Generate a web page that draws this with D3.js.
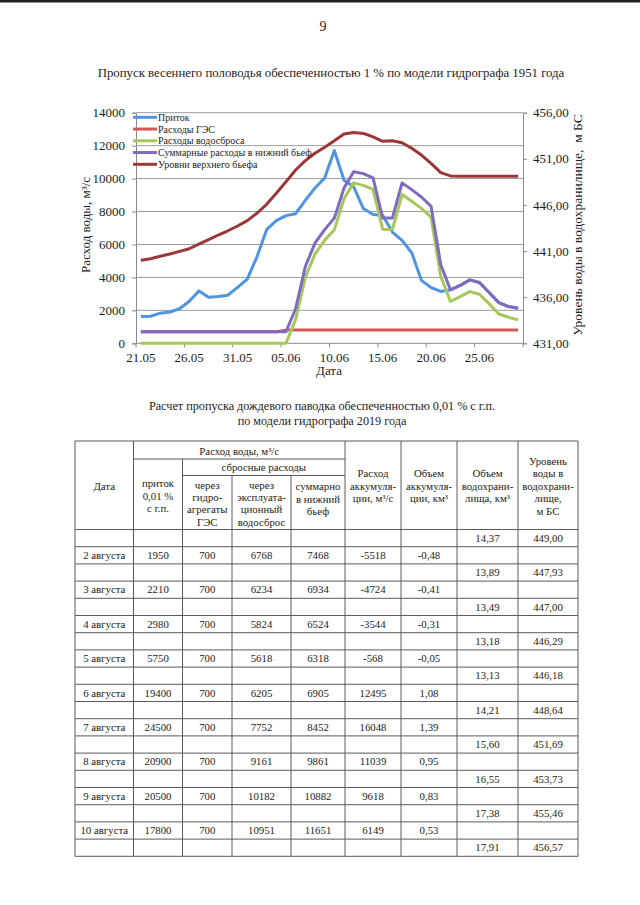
<!DOCTYPE html>
<html><head><meta charset="utf-8">
<script src="https://cdn.jsdelivr.net/npm/d3@7"></script>
<style>
body{margin:0;background:#fff;}
svg{display:block;}
svg text{font-family:"Liberation Serif","Times New Roman","DejaVu Serif",serif !important;}
</style></head><body>
<svg id="page" width="640" height="905"></svg>
<script>
// ---------- chart data ----------
const dates = ["21.05","22.05","23.05","24.05","25.05","26.05","27.05","28.05","29.05","30.05","31.05",
  "01.06","02.06","03.06","04.06","05.06","06.06","07.06","08.06","09.06","10.06","11.06","12.06","13.06",
  "14.06","15.06","16.06","17.06","18.06","19.06","20.06","21.06","22.06","23.06","24.06","25.06","26.06",
  "27.06","28.06","29.06"];
const xTickLabels = ["21.05","26.05","31.05","05.06","10.06","15.06","20.06","25.06"];
const leftTicks = [0,2000,4000,6000,8000,10000,12000,14000];
const rightTicks = [431,436,441,446,451,456];
const inflow = [1620,1640,1830,1900,2100,2550,3180,2800,2840,2920,3400,3900,5250,6900,7450,7750,7870,8680,9430,10040,
  11700,9900,9500,8180,7820,7760,6750,6250,5500,3820,3380,3150,3250,3510,3850,3690,3080,2470,2230,2130];
const gesFlow = [700,700,700,700,700,700,700,700,700,700,700,700,700,700,700,800,800,800,800,800,
  800,800,800,800,800,800,800,800,800,800,800,800,800,800,800,800,800,800,800,800];
const spillFlow = [0,0,0,0,0,0,0,0,0,0,0,0,0,0,0,0,1450,4000,5420,6250,
  6900,8780,9740,9590,9340,6920,6900,9030,8620,8190,7660,4060,2540,2830,3140,2980,2390,1780,1580,1420];
const totalFlow = [700,700,700,700,700,700,700,700,700,700,700,700,700,700,700,700,2100,4660,6080,6900,
  7600,9430,10420,10300,10040,7600,7600,9740,9330,8880,8310,4770,3250,3510,3850,3690,3080,2470,2230,2130];
const upperLevel = [440.0,440.17,440.43,440.68,440.97,441.25,441.75,442.25,442.74,443.2,443.72,444.3,445.1,446.07,447.26,448.52,449.79,450.8,451.6,452.25,
  452.95,453.7,453.85,453.75,453.38,452.9,452.95,452.75,452.14,451.41,450.5,449.5,449.15,449.1,449.1,449.1,449.1,449.1,449.1,449.1];
const seriesNames = ["Приток","Расходы ГЭС","Расходы водосброса","Суммарные расходы в нижний бьеф","Уровни верхнего бьефа"];
const seriesColors = ["#4f94e0","#d25a56","#a5c85a","#7f6ac0","#9a3838"];

// ---------- table data ----------
const tableDates = ["2 августа","3 августа","4 августа","5 августа","6 августа","7 августа","8 августа","9 августа","10 августа"];
const tInflow = [1950,2210,2980,5750,19400,24500,20900,20500,17800];
const tGes = [700,700,700,700,700,700,700,700,700];
const tSpill = [6768,6234,5824,5618,6205,7752,9161,10182,10951];
const tTotal = [7468,6934,6524,6318,6905,8452,9861,10882,11651];
const tAccRate = [-5518,-4724,-3544,-568,12495,16048,11039,9618,6149];
const tAccVol = [-0.48,-0.41,-0.31,-0.05,1.08,1.39,0.95,0.83,0.53];
const tResVol = [14.37,13.89,13.49,13.18,13.13,14.21,15.60,16.55,17.38,17.91];
const tResLevel = [449.00,447.93,447.00,446.29,446.18,448.64,451.69,453.73,455.46,456.57];

const svg = d3.select("#page");
const ink = "#1c1c1c";
const comma2 = v => v.toFixed(2).replace(".", ",");

// top scan edge
svg.append("rect").attr("x",0).attr("y",0).attr("width",640).attr("height",2.5).attr("fill","#222");

svg.append("text").attr("x",323).attr("y",31).attr("text-anchor","middle")
  .attr("font-size",14).attr("fill",ink).text("9");
svg.append("text").attr("x",331).attr("y",77).attr("text-anchor","middle")
  .attr("font-size",12.8).attr("fill",ink)
  .text("Пропуск весеннего половодья обеспеченностью 1 % по модели гидрографа 1951 года");

// ---------- chart ----------
const L = 136, R = 523, T = 112.7, B = 343.3;
const x = d3.scaleBand().domain(dates).range([L, R]).paddingInner(0).paddingOuter(0);
const cx = i => x(dates[i]) + x.bandwidth() / 2;
const yL = d3.scaleLinear().domain([0, 14000]).range([B, T]);
const yR = d3.scaleLinear().domain([431, 456]).range([B, T]);
const axisCol = "#8a8a8a";

// gridlines
svg.append("g").selectAll("line").data(leftTicks.filter(d => d > 0)).join("line")
  .attr("x1", L).attr("x2", R).attr("y1", d => yL(d)).attr("y2", d => yL(d))
  .attr("stroke", "#9c9c9c").attr("stroke-width", 1);

// left axis
const gl = svg.append("g").attr("transform", `translate(${L},0)`)
  .call(d3.axisLeft(yL).tickValues(leftTicks).tickFormat(d3.format("d")).tickSize(4).tickPadding(7));
// right axis
const gr = svg.append("g").attr("transform", `translate(${R},0)`)
  .call(d3.axisRight(yR).tickValues(rightTicks).tickFormat(comma2).tickSize(4).tickPadding(6));
// bottom axis (labels at category centres)
const gb = svg.append("g").attr("transform", `translate(0,${B})`)
  .call(d3.axisBottom(x).tickValues(xTickLabels).tickSize(0).tickPadding(9));
gb.select(".domain").remove();
svg.append("line").attr("x1", L).attr("x2", R).attr("y1", B).attr("y2", B).attr("stroke", axisCol);
// bottom tick marks on category boundaries every 5 days
svg.append("g").selectAll("line").data(d3.range(0, dates.length + 1, 5)).join("line")
  .attr("x1", k => L + k * x.step()).attr("x2", k => L + k * x.step())
  .attr("y1", B).attr("y2", B + 4).attr("stroke", axisCol);

[gl, gr, gb].forEach(g => {
  g.attr("font-size", 13);
  g.selectAll(".domain").attr("stroke", axisCol);
  g.selectAll(".tick line").attr("stroke", axisCol);
  g.selectAll(".tick text").attr("font-size", 13).attr("fill", ink);
});

// axis titles
svg.append("text").attr("transform", "translate(85,225) rotate(-90)").attr("text-anchor", "middle")
  .attr("dy", "0.35em").attr("font-size", 13).attr("fill", ink).text("Расход воды, м³/с");
svg.append("text").attr("transform", "translate(577,225) rotate(-90)").attr("text-anchor", "middle")
  .attr("dy", "0.35em").attr("font-size", 13.5).attr("fill", ink).text("Уровень воды в водохранилище,\u00a0 м БС");
svg.append("text").attr("x", 329).attr("y", 375).attr("text-anchor", "middle")
  .attr("font-size", 13).attr("fill", ink).text("Дата");

// lines
const lineL = d3.line().x((d, i) => cx(i)).y(d => yL(d));
const lineR = d3.line().x((d, i) => cx(i)).y(d => yR(d));
const seriesData = [inflow, gesFlow, spillFlow, totalFlow];
seriesData.forEach((s, k) => {
  svg.append("path").datum(s).attr("d", lineL).attr("fill", "none")
    .attr("stroke", seriesColors[k]).attr("stroke-width", 3).attr("stroke-linejoin", "round");
});
svg.append("path").datum(upperLevel).attr("d", lineR).attr("fill", "none")
  .attr("stroke", seriesColors[4]).attr("stroke-width", 3).attr("stroke-linejoin", "round");

// legend
const lg = svg.append("g").selectAll("g").data(seriesNames).join("g")
  .attr("transform", (d, i) => `translate(133,${117.3 + i * 11.75})`);
lg.append("line").attr("x1", 0).attr("x2", 24).attr("stroke", (d, i) => seriesColors[i]).attr("stroke-width", 3);
lg.append("text").attr("x", 25).attr("dy", "0.35em").attr("font-size", 10).attr("fill", ink).text(d => d);

// ---------- table title ----------
svg.append("text").attr("x", 322).attr("y", 409.5).attr("text-anchor", "middle").attr("font-size", 12.2).attr("fill", ink)
  .text("Расчет пропуска дождевого паводка обеспеченностью 0,01 % с г.п.");
svg.append("text").attr("x", 322).attr("y", 424.5).attr("text-anchor", "middle").attr("font-size", 12.2).attr("fill", ink)
  .text("по модели гидрографа 2019 года");

// ---------- table ----------
const cols = [75, 133.5, 182.5, 232, 291, 345, 401, 457, 518, 578];
const hTop = 441, h1 = 459, h2 = 475.5, hBot = 529.5, rowH = 17.2, nRows = 19;
const tBot = hBot + nRows * rowH;
const tg = svg.append("g").attr("stroke", "#5a5a5a").attr("stroke-width", 1);
const seg = (x1, y1, x2, y2) => tg.append("line").attr("x1", x1).attr("y1", y1).attr("x2", x2).attr("y2", y2);
seg(cols[0], hTop, cols[9], hTop);
seg(cols[1], h1, cols[5], h1);
seg(cols[2], h2, cols[5], h2);
d3.range(nRows + 1).forEach(r => seg(cols[0], hBot + r * rowH, cols[9], hBot + r * rowH));
[0, 1, 5, 6, 7, 8, 9].forEach(c => seg(cols[c], hTop, cols[c], tBot));
seg(cols[2], h1, cols[2], tBot);
[3, 4].forEach(c => seg(cols[c], h2, cols[c], tBot));

const tf = 10.8;
const multi = (lines, xc, yc) => {
  const lh = 12.4;
  lines.forEach((t, i) => svg.append("text").attr("x", xc).attr("y", yc + (i - (lines.length - 1) / 2) * lh)
    .attr("dy", "0.35em").attr("text-anchor", "middle").attr("font-size", tf).attr("fill", ink).text(t));
};
const mid = c => (cols[c] + cols[c + 1]) / 2;
multi(["Дата"], mid(0), 486);
multi(["Расход воды, м³/с"], (cols[1] + cols[5]) / 2, 451);
multi(["сбросные расходы"], (cols[2] + cols[5]) / 2, 467.5);
multi(["приток", "0,01 %", "с г.п."], mid(1), 496);
multi(["через", "гидро-", "агрегаты", "ГЭС"], mid(2), 503.5);
multi(["через", "эксплуата-", "ционный", "водосброс"], mid(3), 503.5);
multi(["суммарно", "в нижний", "бьеф"], mid(4), 499);
multi(["Расход", "аккумуля-", "ции, м³/с"], mid(5), 486);
multi(["Объем", "аккумуля-", "ции, км³"], mid(6), 486);
multi(["Объем", "водохрани-", "лища, км³"], mid(7), 486);
multi(["Уровень", "воды в", "водохрани-", "лище,", "м БС"], mid(8), 486);

const cellText = (c, r, t) => svg.append("text").attr("x", mid(c)).attr("y", hBot + r * rowH + rowH / 2)
  .attr("dy", "0.35em").attr("text-anchor", "middle").attr("font-size", tf).attr("fill", ink).text(t);
tResVol.forEach((v, i) => { cellText(7, 2 * i, comma2(v)); cellText(8, 2 * i, comma2(tResLevel[i])); });
tableDates.forEach((d, i) => {
  const r = 2 * i + 1;
  cellText(0, r, d);
  cellText(1, r, tInflow[i]);
  cellText(2, r, tGes[i]);
  cellText(3, r, tSpill[i]);
  cellText(4, r, tTotal[i]);
  cellText(5, r, tAccRate[i]);
  cellText(6, r, comma2(tAccVol[i]));
});
</script>
</body></html>
